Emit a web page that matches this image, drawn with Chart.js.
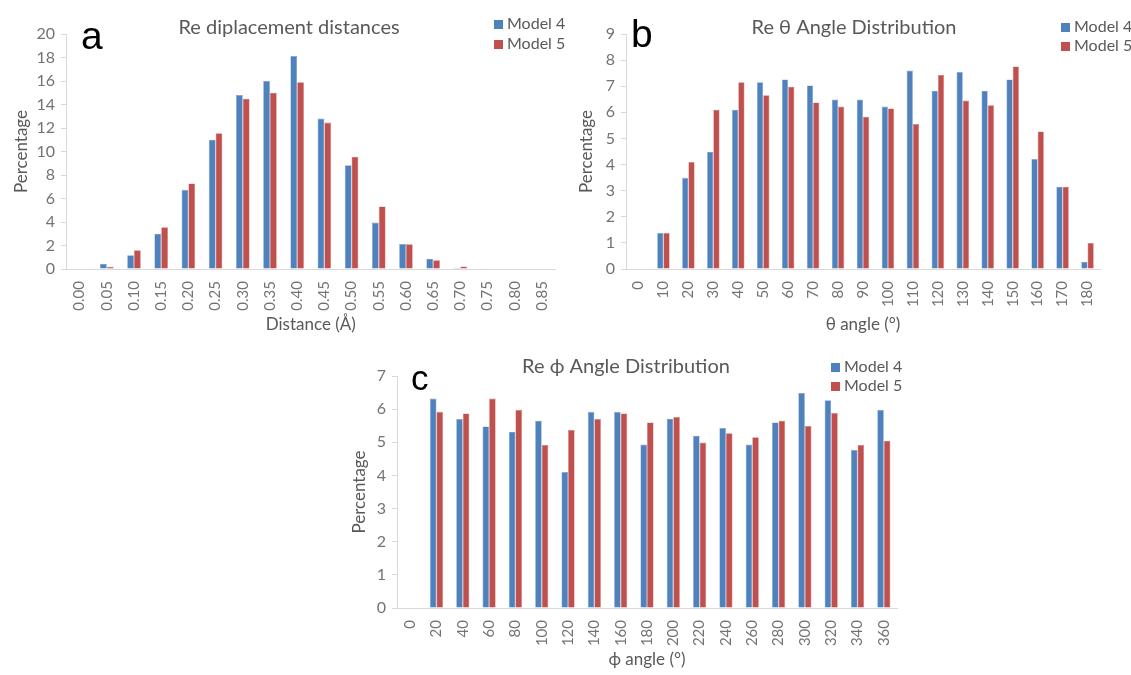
<!DOCTYPE html>
<html>
<head>
<meta charset="utf-8">
<script src="https://cdn.jsdelivr.net/npm/chart.js@4.4.1/dist/chart.umd.min.js"></script>
<style>
  body { margin: 0; background: #fff; width: 1131px; height: 675px; position: relative; overflow: hidden; }
  canvas { position: absolute; }
  .txt { position: absolute; white-space: nowrap; line-height: 1; }
  .title { font-family: Lato, sans-serif; font-size: 20px; color: #595959; transform: translateX(-50%); }
  .letter { font-family: "Liberation Sans", Arial, sans-serif; font-size: 39px; color: #000; }
  .legend { font-family: Lato, sans-serif; font-size: 16px; color: #595959; }
  .legend span { display: inline-block; width: 9px; height: 9px; margin-right: 4px; vertical-align: 0px; }
</style>
</head>
<body>
<canvas id="chartA" width="572" height="340" style="left:0;top:0"></canvas>
<canvas id="chartB" width="566" height="340" style="left:565px;top:0"></canvas>
<canvas id="chartC" width="580" height="335" style="left:340px;top:340px"></canvas>

<div class="txt title" style="left:289px;top:16px">Re diplacement distances</div>
<div class="txt title" style="left:854px;top:16px">Re θ Angle Distribution</div>
<div class="txt title" style="left:626px;top:355px">Re ϕ Angle Distribution</div>

<div class="txt letter" style="left:81px;top:16px">a</div>
<div class="txt letter" style="left:631px;top:14px">b</div>
<div class="txt letter" style="left:411px;top:360px;font-size:35px">c</div>

<div class="txt legend" style="left:494px;top:15px"><span style="background:#4F81BD"></span>Model 4</div>
<div class="txt legend" style="left:494px;top:35px"><span style="background:#C0504D"></span>Model 5</div>
<div class="txt legend" style="left:1061px;top:18px"><span style="background:#4F81BD"></span>Model 4</div>
<div class="txt legend" style="left:1061px;top:37px"><span style="background:#C0504D"></span>Model 5</div>
<div class="txt legend" style="left:831px;top:358px"><span style="background:#4F81BD"></span>Model 4</div>
<div class="txt legend" style="left:831px;top:377px"><span style="background:#C0504D"></span>Model 5</div>

<script>
// Panel a: displacement distances
const distLabels = ['0.00', '0.05', '0.10', '0.15', '0.20', '0.25', '0.30', '0.35', '0.40',
    '0.45', '0.50', '0.55', '0.60', '0.65', '0.70', '0.75', '0.80', '0.85'];
const distModel4 = [0, 0.45, 1.17, 3.0, 6.74, 11.0, 14.8, 16.0, 18.12, 12.8, 8.82, 3.95, 2.13, 0.88, 0.1, 0.03, 0, 0];
const distModel5 = [0, 0.2, 1.6, 3.56, 7.28, 11.55, 14.5, 15.0, 15.9, 12.46, 9.56, 5.32, 2.1, 0.74, 0.22, 0, 0, 0];

// Panel b: theta angle
const thetaLabels = ['0', '10', '20', '30', '40', '50', '60', '70', '80', '90', '100',
    '110', '120', '130', '140', '150', '160', '170', '180'];
const thetaModel4 = [0, 1.38, 3.49, 4.49, 6.1, 7.15, 7.26, 7.03, 6.49, 6.49, 6.22, 7.6, 6.83, 7.54, 6.83, 7.26, 4.21, 3.15, 0.28];
const thetaModel5 = [0, 1.38, 4.1, 6.1, 7.15, 6.65, 6.98, 6.38, 6.22, 5.83, 6.15, 5.55, 7.43, 6.45, 6.27, 7.76, 5.27, 3.15, 1.0];

// Panel c: phi angle
const phiLabels = ['0', '20', '40', '60', '80', '100', '120', '140', '160', '180', '200',
    '220', '240', '260', '280', '300', '320', '340', '360'];
const phiModel4 = [0, 6.32, 5.70, 5.48, 5.32, 5.65, 4.10, 5.92, 5.92, 4.93, 5.71, 5.20, 5.43, 4.93, 5.60, 6.49, 6.27, 4.77, 5.98];
const phiModel5 = [0, 5.92, 5.87, 6.32, 5.98, 4.92, 5.37, 5.70, 5.87, 5.60, 5.76, 4.99, 5.27, 5.15, 5.65, 5.49, 5.88, 4.92, 5.05];

const BLUE = '#4F81BD';
const RED = '#C0504D';
const AXIS = '#D9D9D9';
const TICK_TEXT = '#737373';
const FONT = 'Lato';

function makeChart(id, labels, model4, model5, yMax, yStep, xTitle, geom) {
    const ctx = document.getElementById(id).getContext('2d');
    return new Chart(ctx, {
        type: 'bar',
        data: {
            labels: labels,
            datasets: [
                { label: 'Model 4', data: model4, backgroundColor: BLUE, borderColor: '#7FA3CF', borderWidth: 0.6 },
                { label: 'Model 5', data: model5, backgroundColor: RED, borderColor: '#D27F7D', borderWidth: 0.6 }
            ]
        },
        options: {
            responsive: false,
            animation: false,
            layout: { padding: { top: geom.top, right: geom.right, left: 0, bottom: 0 } },
            datasets: { bar: { categoryPercentage: 0.5, barPercentage: 1.0 } },
            plugins: {
                legend: { display: false },
                title: { display: false },
                tooltip: { enabled: false }
            },
            scales: {
                x: {
                    grid: { display: false, drawTicks: false },
                    border: { color: AXIS, width: 1 },
                    ticks: {
                        autoSkip: false, minRotation: 90, maxRotation: 90, padding: 12,
                        color: TICK_TEXT, font: { family: FONT, size: 15 }
                    },
                    title: {
                        display: true, text: xTitle, color: '#595959',
                        font: { family: FONT, size: 17 }, padding: { top: 0, bottom: 5 }
                    },
                    afterFit: scale => { scale.height = geom.xh; }
                },
                y: {
                    min: 0, max: yMax,
                    grid: { drawOnChartArea: false, tickLength: 5, color: AXIS },
                    border: { color: AXIS, width: 1 },
                    ticks: { stepSize: yStep, padding: 6, color: TICK_TEXT, font: { family: FONT, size: 16 } },
                    title: {
                        display: true, text: 'Percentage', color: '#595959',
                        font: { family: FONT, size: 17 }, padding: { top: geom.ytp, bottom: 0 }
                    },
                    afterFit: scale => { scale.width = geom.yw; }
                }
            }
        }
    });
}

makeChart('chartA', distLabels, distModel4, distModel5, 20, 2, 'Distance (Å)',
    { top: 34, right: 2, xh: 71, yw: 66, ytp: 11 });
makeChart('chartB', thetaLabels, thetaModel4, thetaModel5, 9, 1, 'θ angle (°)',
    { top: 34, right: 31, xh: 71, yw: 61, ytp: 11 });
makeChart('chartC', phiLabels, phiModel4, phiModel5, 7, 1, 'ϕ angle (°)',
    { top: 36, right: 23, xh: 67, yw: 57, ytp: 9 });
</script>
</body>
</html>
